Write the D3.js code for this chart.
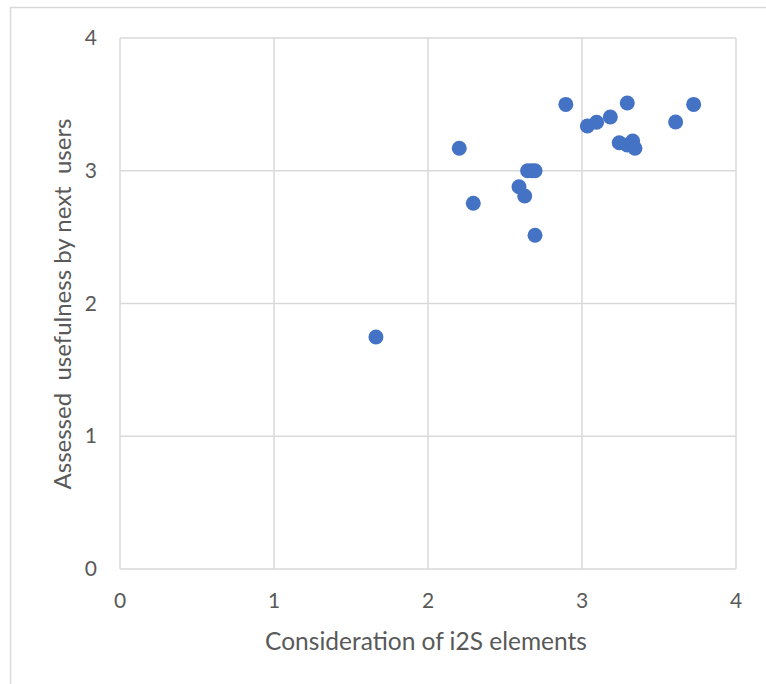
<!DOCTYPE html>
<html><head><meta charset="utf-8">
<script src="https://cdn.jsdelivr.net/npm/d3@7"></script>
<style>body{margin:0;background:#fff;} svg{display:block;}</style>
</head><body>
<script>
const xValues = [1.662, 2.203, 2.294, 2.591, 2.628, 2.647, 2.673, 2.695, 2.695, 2.895, 3.035, 3.095, 3.184, 3.294, 3.242, 3.294, 3.329, 3.344, 3.608, 3.725];
const yValues = [1.748, 3.17, 2.755, 2.88, 2.81, 3.0, 3.0, 3.0, 2.514, 3.50, 3.337, 3.365, 3.405, 3.51, 3.211, 3.194, 3.224, 3.169, 3.367, 3.50];
const xTicks = [0, 1, 2, 3, 4];
const yTicks = [0, 1, 2, 3, 4];
const xTitle = "Consideration of i2S elements";
const yTitle = "Assessed  usefulness by next  users";

const W = 766, H = 684;
const L = 120, R = 736, T = 38, B = 569;
const svg = d3.select("body").append("svg").attr("width", W).attr("height", H);
const font = "Lato, 'Open Sans', sans-serif";

svg.append("path").attr("d", `M10.5,${H} V7.5 H${W}`).attr("fill","none").attr("stroke","#d9d9d9").attr("stroke-width",1.5);

const x = d3.scaleLinear().domain([0,4]).range([L,R]);
const y = d3.scaleLinear().domain([0,4]).range([B,T]);

const g = svg.append("g");
g.selectAll(".vg").data(xTicks).join("line")
  .attr("x1", d=>x(d)).attr("x2", d=>x(d)).attr("y1", T).attr("y2", B)
  .attr("stroke","#d9d9d9").attr("stroke-width",1.5);
g.selectAll(".hg").data(yTicks).join("line")
  .attr("y1", d=>y(d)).attr("y2", d=>y(d)).attr("x1", L).attr("x2", R)
  .attr("stroke","#d9d9d9").attr("stroke-width",1.5);

svg.selectAll(".xt").data(xTicks).join("text")
  .attr("x", d=>x(d)).attr("y", 608).attr("text-anchor","middle")
  .attr("font-family", font).attr("font-size", 21).attr("fill","#595959").text(d=>d);
svg.selectAll(".yt").data(yTicks).join("text")
  .attr("x", 97).attr("y", d=>y(d)+7).attr("text-anchor","end")
  .attr("font-family", font).attr("font-size", 21).attr("fill","#595959").text(d=>d);

svg.append("text").attr("x", 426).attr("y", 650).attr("text-anchor","middle")
  .attr("font-family", font).attr("font-size", 24.5).attr("fill","#595959").text(xTitle);
svg.append("text").attr("transform", `translate(71,304) rotate(-90)`).attr("text-anchor","middle")
  .attr("font-family", font).attr("font-size", 24).attr("fill","#595959")
  .attr("xml:space","preserve").style("white-space","pre").text(yTitle);

const pts = xValues.map((v,i)=>({x:v,y:yValues[i]}));
svg.selectAll(".pt").data(pts).join("circle")
  .attr("cx", d=>x(d.x)).attr("cy", d=>y(d.y)).attr("r", 7.5)
  .attr("fill","#4472c4");
</script>
</body></html>
